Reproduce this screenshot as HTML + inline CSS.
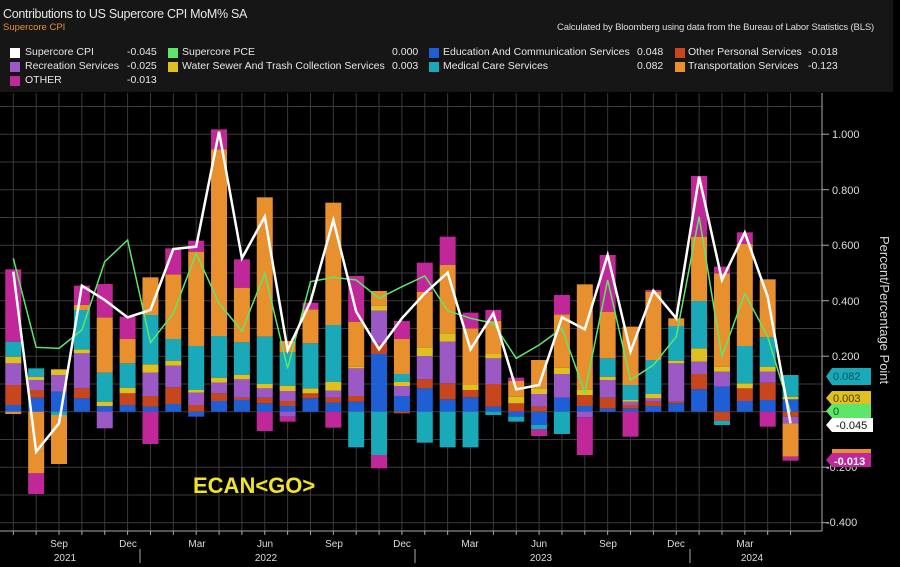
<!DOCTYPE html>
<html><head><meta charset="utf-8"><style>
html,body{margin:0;padding:0;background:#000;}
body{width:900px;height:567px;overflow:hidden;position:relative;font-family:"Liberation Sans",sans-serif;}
#hdr{position:absolute;left:0;top:0;width:893px;height:92px;background:#161616;}
.t{position:absolute;color:#e6e6e6;font-size:10.5px;white-space:nowrap;}
.sq{position:absolute;width:10px;height:10px;}
</style></head><body>
<div id="hdr"></div>
<div class="t" style="left:3px;top:7px;font-size:12.5px;letter-spacing:-0.3px;">Contributions to US Supercore CPI MoM% SA</div>
<div class="t" style="left:3px;top:22px;font-size:9.5px;color:#e8902e;">Supercore CPI</div>
<div class="t" style="left:557px;top:22px;font-size:9.5px;letter-spacing:-0.15px;color:#ddd;">Calculated by Bloomberg using data from the Bureau of Labor Statistics (BLS)</div>

<div class="sq" style="left:10px;top:48px;background:#fff"></div><div class="t" style="left:25px;top:46px">Supercore CPI</div><div class="t" style="left:127px;top:46px">-0.045</div>
<div class="sq" style="left:10px;top:62px;background:#9b59c6"></div><div class="t" style="left:25px;top:60px">Recreation Services</div><div class="t" style="left:127px;top:60px">-0.025</div>
<div class="sq" style="left:10px;top:76px;background:#c0289a"></div><div class="t" style="left:25px;top:74px">OTHER</div><div class="t" style="left:127px;top:74px">-0.013</div>
<div class="sq" style="left:168px;top:48px;background:#5ee66a"></div><div class="t" style="left:182px;top:46px">Supercore PCE</div><div class="t" style="left:392px;top:46px">0.000</div>
<div class="sq" style="left:168px;top:62px;background:#e0c020"></div><div class="t" style="left:182px;top:60px">Water Sewer And Trash Collection Services</div><div class="t" style="left:392px;top:60px">0.003</div>
<div class="sq" style="left:429px;top:48px;background:#1f5fd6"></div><div class="t" style="left:443px;top:46px">Education And Communication Services</div><div class="t" style="left:637px;top:46px">0.048</div>
<div class="sq" style="left:429px;top:62px;background:#19a9b8"></div><div class="t" style="left:443px;top:60px">Medical Care Services</div><div class="t" style="left:637px;top:60px">0.082</div>
<div class="sq" style="left:675px;top:48px;background:#c8461e"></div><div class="t" style="left:688px;top:46px">Other Personal Services</div><div class="t" style="left:808px;top:46px">-0.018</div>
<div class="sq" style="left:675px;top:62px;background:#e8902e"></div><div class="t" style="left:688px;top:60px">Transportation Services</div><div class="t" style="left:808px;top:60px">-0.123</div>

<svg id="ch" width="900" height="567" style="position:absolute;left:0;top:0" xmlns="http://www.w3.org/2000/svg">
<g id="grid"></g><g id="bars"></g><g id="lines"></g>
<g font-family="Liberation Sans, sans-serif" font-size="11" fill="#ddd">
<text x="832" y="138">1.000</text><text x="832" y="194">0.800</text><text x="832" y="249">0.600</text>
<text x="832" y="305">0.400</text><text x="832" y="360">0.200</text>
<text x="826" y="471">-0.200</text><text x="826" y="526">-0.400</text>
<text transform="translate(880,236) rotate(90)" font-size="13">Percent/Percentage Point</text>
<g font-size="10" text-anchor="middle">
<text x="59" y="547">Sep</text><text x="128" y="547">Dec</text><text x="197" y="547">Mar</text><text x="265" y="547">Jun</text>
<text x="334" y="547">Sep</text><text x="402" y="547">Dec</text><text x="470" y="547">Mar</text><text x="539" y="547">Jun</text>
<text x="608" y="547">Sep</text><text x="676" y="547">Dec</text><text x="745" y="547">Mar</text>
<text x="65" y="561">2021</text><text x="266" y="561">2022</text><text x="541" y="561">2023</text><text x="752" y="561">2024</text>
</g>
<text x="193" y="493" font-size="22" font-weight="bold" fill="#f2e32a" font-family="Liberation Sans, sans-serif">ECAN&lt;GO&gt;</text>
</g>
<g font-family="Liberation Sans, sans-serif" font-size="11">
<path d="M832,368 H871 V385 H832 L826,376.5 Z" fill="#19a9b8"/><text x="833" y="380" fill="#0d5560">0.082</text>
<path d="M832,391 H871 V405 H832 L826,398 Z" fill="#e0c020"/><text x="833" y="402" fill="#4a3d00">0.003</text>
<path d="M832,404 H871 V418 H832 L826,411 Z" fill="#5ee66a"/><text x="833" y="415" fill="#0a5a10">0</text>
<path d="M832,418 H873 V432 H832 L826,425 Z" fill="#fff"/><text x="836" y="429" fill="#111">-0.045</text>
<path d="M832,449 H871 V454 H832 Z" fill="#e8902e"/>
<path d="M832,453 H871 V467 H832 L826,460 Z" fill="#c0289a"/><text x="834" y="465" fill="#fff" font-weight="bold">-0.013</text>
</g>
</svg>
<script>
var C={b:'#1f5fd6',r:'#c8461e',p:'#9b59c6',y:'#e0c020',t:'#19a9b8',o:'#e8902e',m:'#c0289a'};
var B=[
"b915-935 r855-915 p790-855 y770-790 t725-770 m508-725 o935-942",
"b893-935 r870-893 p840-870 y830-840 t805-830 o935-1120 m1120-1182",
"b875-935 p825-875 y808-825 t935-945 o945-1092",
"b895-935 r865-895 p760-865 y748-760 t630-748 o615-630 m557-615",
"b918-935 y905-918 t818-905 o652-818 m552-652 p935-985",
"b915-935 r880-915 y863-880 t790-863 o717-790 m650-717",
"b920-935 r888-920 p818-888 y793-818 t645-793 o532-645 m935-1032",
"b912-935 r862-912 p797-862 y782-797 t717-782 o523-717 m445-523",
"r915-935 p878-915 y870-878 t738-870 o455-738 m422-455 b935-950",
"b903-935 r880-903 p848-880 y833-848 t708-833 o148-708 m88-148",
"b900-935 r893-900 p838-893 y824-838 t727-824 o563-727 m478-563",
"b910-935 r893-910 p865-893 y852-865 t710-852 o292-710 m935-993",
"b918-935 r903-918 p873-903 y857-873 t757-857 o723-757 p935-950 m950-965",
"b895-935 r880-895 y865-880 t730-865 o628-730 m608-628",
"b908-935 r893-908 p872-893 y845-872 t675-845 o308-675 m935-983",
"b905-935 r888-905 p805-888 y800-805 o665-800 m528-665 t935-1042",
"b762-935 r730-762 p632-730 y617-632 o573-617 t935-1065 m1065-1105",
"b888-935 p858-888 y845-858 t822-845 o717-822 m663-717 r935-940",
"b865-935 r838-865 p768-838 y742-768 o575-742 m488-575 t935-1028",
"b898-935 r850-898 p725-850 y700-725 o495-700 m410-495 t935-1042",
"b892-935 r870-892 y855-870 o685-855 m638-685 t935-1042",
"b920-935 r852-920 p775-852 y762-775 o662-762 m630-662 t935-945",
"r910-935 y890-910 o843-890 m833-843 b935-950 t950-965",
"r920-935 p882-920 y865-882 o780-865 b935-975 t975-988 m988-1008",
"b893-935 p822-893 y803-822 o643-803 m585-643 t935-1002",
"b918-935 r885-918 y868-885 o553-868 p935-952 m952-1065",
"b925-935 r893-925 p840-893 y830-840 t775-830 o635-775 m465-635",
"b925-935 r915-925 p905-915 y900-905 t855-900 o680-855 m935-1010",
"b918-935 r905-918 p895-905 y882-895 t780-882 o575-780 m570-575",
"b910-935 r905-910 p790-905 y782-790 t678-782 o655-678",
"b868-935 r822-868 p785-822 y745-785 t603-745 o410-603 m228-410",
"b860-935 p815-860 y800-815 o520-800 m500-520 r935-962 t962-975",
"b903-935 r865-903 y850-865 t738-850 o432-738 m397-432",
"b900-935 r848-900 p815-848 y800-815 t712-800 o538-712 m935-980",
"b898-935 y890-898 t825-890 r935-950 p950-970 o970-1070 m1070-1082"];
var W=[515,1055,970,557,600,652,630,447,440,95,475,350,750,605,360,635,748,655,580,518,748,640,868,855,652,688,465,755,572,655,230,540,398,590,970];
var G=[475,742,745,690,485,420,728,640,460,610,693,520,805,545,532,540,595,560,528,632,655,670,775,735,685,878,540,840,795,710,350,770,580,710,935];
var ns='http://www.w3.org/2000/svg';
function el(p,n,a){var e=document.createElementNS(ns,n);for(var k in a)e.setAttribute(k,a[k]);p.appendChild(e);return e;}
function X(i){return 13.3+i*22.86;}function Y(z){return 100+z/3;}
var g=document.getElementById('grid');
for(var v=-4;v<=11;v++){var y=411.7-v*27.75;if(y<95)continue;el(g,'line',{x1:0,x2:822,y1:y,y2:y,stroke:'#3a3a3a','stroke-width':1});}
for(var i=0;i<35;i++){el(g,'line',{x1:X(i),x2:X(i),y1:93,y2:531,stroke:'#3a3a3a','stroke-width':1});}
el(g,'line',{x1:822,x2:822,y1:93,y2:531,stroke:'#aaa','stroke-width':1});
el(g,'line',{x1:0,x2:822,y1:531,y2:531,stroke:'#aaa','stroke-width':1});
for(var v=-4;v<=10;v+=2){var y=411.7-v*27.75;el(g,'line',{x1:822,x2:829,y1:y,y2:y,stroke:'#aaa'});}
for(var i=0;i<35;i++){el(g,'line',{x1:X(i),x2:X(i),y1:531,y2:535,stroke:'#aaa'});}
[140,415,690].forEach(function(x){el(g,'line',{x1:x,x2:x,y1:549,y2:563,stroke:'#aaa'});});
var bg=document.getElementById('bars');
B.forEach(function(s,i){s.split(' ').forEach(function(seg){var c=C[seg[0]],ab=seg.slice(1).split('-');var y0=Y(+ab[0]),y1=Y(+ab[1]);el(bg,'rect',{x:X(i)-8,y:y0,width:16,height:y1-y0,fill:c});});});
var lg=document.getElementById('lines');
el(lg,'polyline',{points:G.map(function(z,i){return X(i)+','+Y(z);}).join(' '),fill:'none',stroke:'#5ee66a','stroke-width':1.5});
el(lg,'polyline',{points:W.map(function(z,i){return X(i)+','+Y(z);}).join(' '),fill:'none',stroke:'#fff','stroke-width':2.5,'stroke-linejoin':'miter'});
</script>
</body></html>
